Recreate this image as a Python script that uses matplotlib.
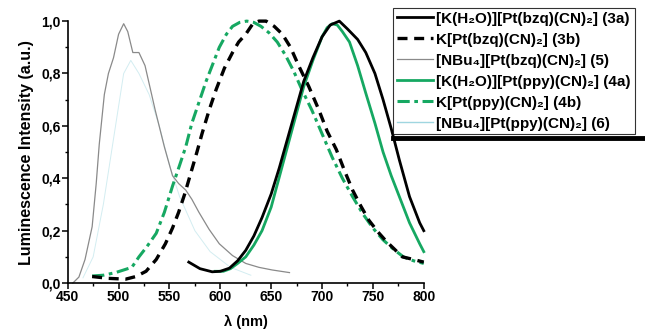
import numpy as np
import matplotlib
matplotlib.use('Agg')
import matplotlib.pyplot as plt
from matplotlib.ticker import MultipleLocator, FuncFormatter
from matplotlib.lines import Line2D

plt.rcParams['font.family'] = ['Liberation Sans', 'DejaVu Sans']
plt.rcParams['font.weight'] = 'bold'

# --- spectra (wavelength nm, normalised intensity)
wl_3a = [569, 580, 592, 600, 609, 617, 625, 633, 641, 650, 658, 666, 674, 682, 691, 700, 708, 717, 725, 735, 743, 752, 760, 768, 776, 786, 796, 800]
int_3a = [0.08, 0.055, 0.043, 0.045, 0.057, 0.085, 0.125, 0.18, 0.25, 0.34, 0.44, 0.55, 0.66, 0.77, 0.86, 0.94, 0.985, 1.0, 0.97, 0.93, 0.88, 0.80, 0.70, 0.59, 0.47, 0.33, 0.23, 0.20]

wl_3b = [474, 490, 507, 517, 527, 537, 546, 553, 559, 565, 571, 577, 582, 589, 596, 604, 612, 618, 625, 632, 638, 645, 653, 661, 669, 677, 687, 697, 705, 714, 722, 730, 738, 746, 755, 763, 771, 779, 790, 800]
int_3b = [0.025, 0.018, 0.015, 0.025, 0.045, 0.09, 0.15, 0.21, 0.27, 0.34, 0.42, 0.50, 0.57, 0.66, 0.74, 0.82, 0.88, 0.92, 0.95, 0.99, 1.0, 1.0, 0.98, 0.95, 0.90, 0.83, 0.75, 0.66, 0.58, 0.51, 0.43, 0.355, 0.295, 0.24, 0.195, 0.16, 0.13, 0.10, 0.09, 0.08]

wl_5 = [455, 461, 467, 474, 478, 481, 486, 490, 495, 500, 505, 509, 514, 520, 526, 536, 545, 553, 559, 566, 572, 579, 589, 599, 612, 625, 638, 651, 668]
int_5 = [0.0, 0.023, 0.09, 0.215, 0.38, 0.53, 0.72, 0.80, 0.86, 0.95, 0.99, 0.96, 0.88, 0.88, 0.83, 0.66, 0.52, 0.41, 0.38, 0.355, 0.32, 0.27, 0.205, 0.15, 0.105, 0.075, 0.06, 0.05, 0.04]

wl_4a = [595, 603, 610, 617, 625, 633, 641, 650, 658, 666, 674, 682, 691, 700, 705, 710, 715, 720, 727, 735, 743, 752, 760, 768, 776, 786, 796, 800]
int_4a = [0.045, 0.045, 0.055, 0.075, 0.10, 0.145, 0.20, 0.29, 0.405, 0.52, 0.635, 0.75, 0.85, 0.94, 0.975, 0.99, 0.985, 0.96, 0.92, 0.83, 0.725, 0.61, 0.50, 0.41, 0.33, 0.23, 0.15, 0.12]

wl_4b = [474, 485, 497, 505, 513, 520, 528, 537, 545, 553, 560, 566, 572, 579, 586, 592, 599, 606, 612, 619, 626, 633, 640, 648, 656, 664, 672, 680, 690, 700, 710, 720, 730, 740, 750, 760, 770, 780, 790, 800]
int_4b = [0.027, 0.03, 0.04, 0.05, 0.06, 0.10, 0.14, 0.19, 0.27, 0.37, 0.45, 0.52, 0.61, 0.69, 0.77, 0.83, 0.90, 0.95, 0.98, 0.995, 1.0, 0.995, 0.98, 0.955, 0.92, 0.87, 0.81, 0.74, 0.66, 0.57, 0.48, 0.40, 0.33, 0.265, 0.21, 0.165, 0.13, 0.10, 0.085, 0.075]

wl_6 = [465, 475, 485, 495, 505, 512, 520, 530, 540, 550, 560, 575, 590, 610, 630]
int_6 = [0.02, 0.10, 0.30, 0.55, 0.80, 0.85, 0.80, 0.72, 0.60, 0.45, 0.33, 0.20, 0.12, 0.06, 0.03]

labels = ['[K(H₂O)][Pt(bzq)(CN)₂] (3a)',
          'K[Pt(bzq)(CN)₂] (3b)',
          '[NBu₄][Pt(bzq)(CN)₂] (5)',
          '[K(H₂O)][Pt(ppy)(CN)₂] (4a)',
          'K[Pt(ppy)(CN)₂] (4b)',
          '[NBu₄][Pt(ppy)(CN)₂] (6)']

green = '#16a862'
pale = '#d3edf1'

fig = plt.figure(figsize=(6.45, 3.35), dpi=100)
ax = fig.add_axes([0.105, 0.155, 0.552, 0.782])

ax.plot(wl_6, int_6, color=pale, lw=0.7, clip_on=False)
ax.plot(wl_5, int_5, color='#8a8a8a', lw=0.9, clip_on=False)
ax.plot(wl_4b, int_4b, color=green, lw=2.2, ls=(0, (4, 1.5, 1.2, 1.5)), clip_on=False)
ax.plot(wl_3b, int_3b, color='black', lw=2.4, ls=(0, (3, 2)), clip_on=False)
ax.plot(wl_4a, int_4a, color=green, lw=2.0, clip_on=False)
ax.plot(wl_3a, int_3a, color='black', lw=2.0, clip_on=False)

ax.set_xlim(450, 800)
ax.set_ylim(0, 1.0)
for s in ['top', 'right']:
    ax.spines[s].set_visible(False)
for s in ['left', 'bottom']:
    ax.spines[s].set_linewidth(1.2)

ax.xaxis.set_major_locator(MultipleLocator(50))
ax.xaxis.set_minor_locator(MultipleLocator(25))
ax.yaxis.set_major_locator(MultipleLocator(0.2))
ax.yaxis.set_minor_locator(MultipleLocator(0.1))
ax.yaxis.set_major_formatter(FuncFormatter(lambda v, p: f'{v:.1f}'.replace('.', ',')))
ax.tick_params(which='major', direction='out', length=4, width=1.1, labelsize=10, pad=1)
ax.tick_params(which='minor', direction='out', length=2.5, width=1.0)
for t in ax.get_xticklabels() + ax.get_yticklabels():
    t.set_fontweight('bold')

ax.set_xlabel('λ (nm)', fontsize=10.5, fontweight='bold', labelpad=8)
ax.set_ylabel('Luminescence Intensity (a.u.)', fontsize=11.5, fontweight='bold', labelpad=5)

# legend
handles = [Line2D([], [], color='black', lw=2.0),
           Line2D([], [], color='black', lw=2.4, ls=(0, (3, 2))),
           Line2D([], [], color='#8a8a8a', lw=0.9),
           Line2D([], [], color=green, lw=2.0),
           Line2D([], [], color=green, lw=2.2, ls=(0, (4, 1.5, 1.2, 1.5))),
           Line2D([], [], color='#9fd6e0', lw=1.0)]
leg = fig.legend(handles, labels, loc='upper left', bbox_to_anchor=(0.609, 0.977),
                 frameon=True, fancybox=False, edgecolor='black', fontsize=11,
                 handlelength=2.4, handletextpad=0.2, labelspacing=0.46,
                 borderpad=0.25, borderaxespad=0)
leg.get_frame().set_linewidth(0.8)
for t in leg.get_texts():
    t.set_fontweight('bold')

# thick lower edge of the legend box
fig.add_artist(Line2D([0.609, 1.0], [0.588, 0.588], color='black', lw=3.5, transform=fig.transFigure))

fig.savefig('out.png', dpi=100)
